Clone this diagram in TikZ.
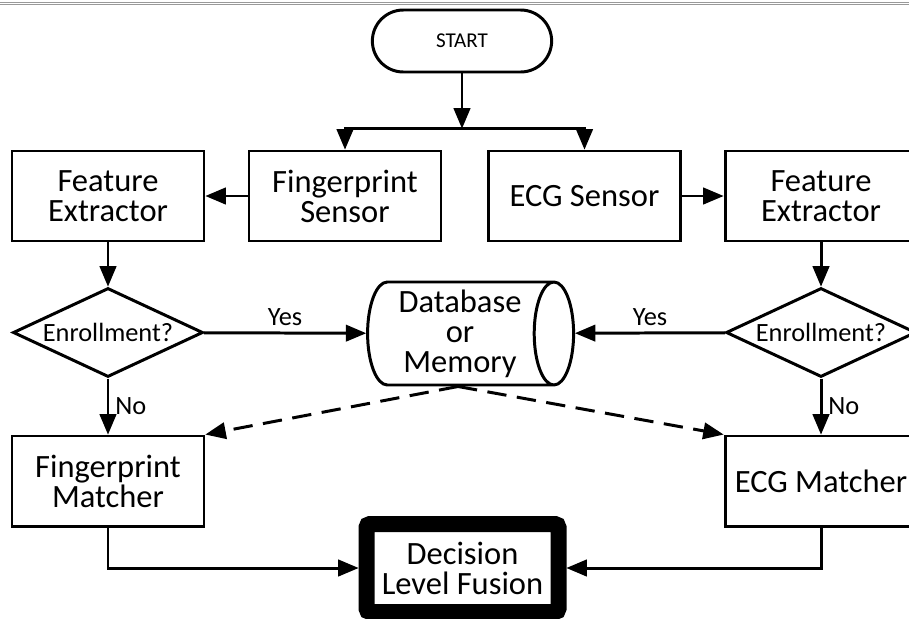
\documentclass[tikz,border=0pt]{standalone}
\usepackage{fontspec}
\setmainfont{Carlito}
\usepackage{tikz}
\usetikzlibrary{shapes,arrows,calc,positioning}

\tikzset{
  blok/.style={rectangle, draw, line width=1.7pt, minimum width=3.84cm,
               minimum height=1.8cm, inner sep=0pt, align=center,
               font=\fontsize{18.5}{17}\selectfont},
  keuze/.style={diamond, draw, line width=1.7pt, aspect=2.13, inner sep=0pt,
                minimum width=3.8cm, minimum height=1.78cm,
                font=\fontsize{15}{17}\selectfont},
  begin/.style={rounded rectangle, draw, line width=1.7pt, minimum width=3.82cm,
                minimum height=1.24cm, font=\fontsize{12}{14}\selectfont},
  opslag/.style={cylinder, draw, line width=1.7pt, aspect=0.45, align=center,
                 minimum width=2.06cm, minimum height=4.12cm, inner sep=0pt,
                 font=\fontsize{18.5}{17}\selectfont},
  fusie/.style={rectangle, draw, line width=0.32cm, rounded corners=2pt,
                minimum width=3.84cm, minimum height=1.76cm, align=center,
                font=\fontsize{18.5}{17}\selectfont},
  lab/.style={font=\fontsize{15}{17}\selectfont}
}

\begin{document}
\begin{tikzpicture}[->,>=triangle 45,line width=1.7pt,auto,node distance=3cm]

  \clip (0,0) rectangle (18.18,-12.38);
  \draw[-,gray!80,double,line width=0.6pt] (0,-0.07) -- (18.18,-0.07);

  \node[begin] (start) at (9.24,-0.82) {START};

  \node[blok] (fe1) at (2.16,-3.92)                      {Feature\\Extractor};
  \node[blok] (fs)  [right of=fe1, node distance=4.74cm] {Fingerprint\\Sensor};
  \node[blok] (ecg) [right of=fs, node distance=4.79cm]  {ECG Sensor};
  \node[blok] (fe2) [right of=ecg, node distance=4.73cm] {Feature\\Extractor};

  \node[keuze] (en1) [below of=fe1, node distance=2.73cm] {Enrollment?};
  \node[keuze] (en2) [below of=fe2, node distance=2.73cm] {Enrollment?};
  \node[opslag] (db) at (9.2,-6.67) {Database\\or\\Memory};

  \node[blok] (fm) [below of=en1, node distance=2.97cm] {Fingerprint\\Matcher};
  \node[blok] (em) [below of=en2, node distance=2.97cm] {ECG Matcher};
  \node[fusie] (fus) at (9.25,-11.36) {Decision\\Level Fusion};

  \coordinate (dbb) at ([xshift=-0.04cm]db.south);

  \draw (start.south) -- ++(0,-1.1) coordinate (split);
  \draw (split) -| (fs.north);
  \draw (split) -| (ecg.north);

  \path (fs)  edge (fe1)
        (ecg) edge (fe2)
        (fe1) edge (en1)
        (fe2) edge (en2)
        (en1) edge node[lab]{Yes} (db)
              edge node[lab]{No} (fm)
        (en2) edge node[lab,swap]{Yes} (db)
              edge node[lab]{No} (em);

  \draw[dash pattern=on 11pt off 6pt] (dbb) -- (fm.north east);
  \draw[dash pattern=on 11pt off 6pt] (dbb) -- (em.north west);

  \draw (fm.south) |- (fus.west);
  \draw (em.south) |- (fus.east);
\end{tikzpicture}
\end{document}
